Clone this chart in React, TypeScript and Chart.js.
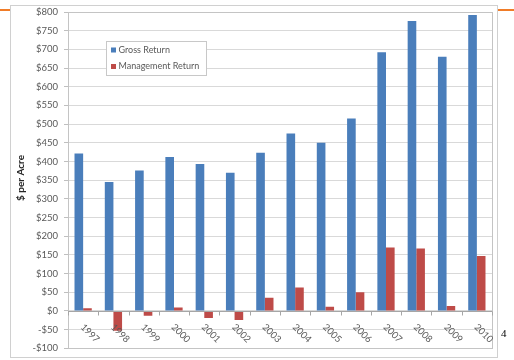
import React, { useEffect, useRef } from "react";
import { Chart, registerables } from "chart.js";

Chart.register(...registerables);

const years = ["1997", "1998", "1999", "2000", "2001", "2002", "2003", "2004", "2005", "2006", "2007", "2008", "2009", "2010"];
const grossReturn = [421, 345, 376, 412, 393, 370, 423, 475, 450, 515, 692, 776, 680, 792];
const managementReturn = [7, -53, -13, 9, -19, -24, 35, 63, 11, 50, 170, 167, 13, 147];
const yMin = -100;
const yMax = 800;
const yStep = 50;

const FONT = "Lato, 'Open Sans', sans-serif";
const TEXT_GRAY = "#595959";

// Frame, axis title, rotated year labels and the boxed legend drawn on the canvas
const decorations = {
  id: "decorations",
  beforeDraw(chart: any) {
    const ctx = chart.ctx;
    ctx.save();
    ctx.fillStyle = "#ffffff";
    ctx.fillRect(10, 5, 487, 352);
    ctx.strokeStyle = "#d0d0d0";
    ctx.lineWidth = 1;
    ctx.strokeRect(10.5, 5.5, 487, 352);
    ctx.restore();
  },
  afterDatasetsDraw(chart: any) {
    const ctx = chart.ctx;
    const area = chart.chartArea;
    const x = chart.scales.x;
    const y = chart.scales.y;
    const zeroY = Math.round(y.getPixelForValue(0)) + 0.5;

    ctx.save();
    // plot area border
    ctx.strokeStyle = "#c4c4c4";
    ctx.lineWidth = 1;
    ctx.strokeRect(Math.round(area.left) + 0.5, Math.round(area.top) + 0.5, Math.round(area.right - area.left), Math.round(area.bottom - area.top));

    // category axis at zero with small ticks between groups
    ctx.strokeStyle = "#a6a6a6";
    ctx.beginPath();
    ctx.moveTo(area.left, zeroY);
    ctx.lineTo(area.right, zeroY);
    const n = years.length;
    for (let i = 0; i <= n; i++) {
      const px = i < n ? x.getPixelForTick(i) - (x.getPixelForTick(1) - x.getPixelForTick(0)) / 2 : area.right;
      const rx = Math.round(px) + 0.5;
      ctx.moveTo(rx, zeroY);
      ctx.lineTo(rx, zeroY + 4);
    }
    ctx.stroke();

    // rotated year labels
    ctx.fillStyle = TEXT_GRAY;
    ctx.font = `9.5px ${FONT}`;
    ctx.textAlign = "left";
    ctx.textBaseline = "middle";
    years.forEach((label, i) => {
      const px = x.getPixelForTick(i);
      ctx.save();
      ctx.translate(px - 1, zeroY + 14);
      ctx.rotate(Math.PI / 4);
      ctx.fillText(label, 0, 0);
      ctx.restore();
    });

    // y axis title
    ctx.save();
    ctx.translate(21, 178);
    ctx.rotate(-Math.PI / 2);
    ctx.font = `bold 10px ${FONT}`;
    ctx.fillStyle = "#262626";
    ctx.textAlign = "center";
    ctx.textBaseline = "middle";
    ctx.fillText("$ per Acre", 0, 0);
    ctx.restore();

    // legend
    const lx = 106.5, ly = 41.5, lw = 100, lh = 34;
    ctx.fillStyle = "#ffffff";
    ctx.fillRect(lx, ly, lw, lh);
    ctx.strokeStyle = "#c8c8c8";
    ctx.strokeRect(lx, ly, lw, lh);
    ctx.font = `9px ${FONT}`;
    ctx.textAlign = "left";
    ctx.textBaseline = "middle";
    chart.data.datasets.forEach((ds: any, i: number) => {
      const cy = 50 + i * 16.5;
      ctx.fillStyle = ds.backgroundColor;
      ctx.fillRect(111, cy - 2.5, 5, 5);
      ctx.fillStyle = TEXT_GRAY;
      ctx.fillText(ds.label, 118.5, cy);
    });
    ctx.restore();
  },
};

export default function App() {
  const canvasRef = useRef<HTMLCanvasElement | null>(null);

  useEffect(() => {
    document.body.style.margin = "0";
    const canvas = canvasRef.current;
    if (!canvas) return;
    const chart = new Chart(canvas, {
      type: "bar",
      data: {
        labels: years,
        datasets: [
          { label: "Gross Return", data: grossReturn, backgroundColor: "#4a7ebb", borderWidth: 0 },
          { label: "Management Return", data: managementReturn, backgroundColor: "#be4b48", borderWidth: 0 },
        ],
      },
      options: {
        animation: false,
        responsive: false,
        maintainAspectRatio: false,
        layout: { padding: { left: 0, top: 12, right: 22, bottom: 10 } },
        plugins: {
          legend: { display: false },
          tooltip: { enabled: false },
          title: { display: false },
        },
        datasets: {
          bar: { categoryPercentage: 0.57, barPercentage: 1.0 },
        },
        scales: {
          x: {
            display: false,
            grid: { display: false },
          },
          y: {
            min: yMin,
            max: yMax,
            afterFit(scale: any) {
              scale.width = 68;
            },
            ticks: {
              stepSize: yStep,
              color: TEXT_GRAY,
              font: { family: FONT, size: 9.5 },
              padding: 6,
              callback: (v: any) => (Number(v) < 0 ? "-$" + Math.abs(Number(v)) : "$" + v),
            },
            grid: { color: "#d9d9d9", tickLength: 4, tickColor: "#bfbfbf" },
            border: { display: true, color: "#bfbfbf" },
          },
        },
      },
      plugins: [decorations],
    });
    return () => chart.destroy();
  }, []);

  return (
    <div style={{ position: "fixed", left: 0, top: 0, width: 514, height: 360, background: "#ffffff" }}>
      <canvas ref={canvasRef} width={514} height={360} style={{ position: "absolute", left: 0, top: 0, width: 514, height: 360 }} />
      <div style={{ position: "absolute", left: 0, top: 9, width: 10, height: 2, background: "#f07c28" }} />
      <div style={{ position: "absolute", left: 498, top: 9, width: 16, height: 2, background: "#f07c28" }} />
      <span style={{ position: "absolute", left: 501, top: 327, fontFamily: "'Liberation Serif', serif", fontSize: 11, color: "#000" }}>4</span>
    </div>
  );
}
